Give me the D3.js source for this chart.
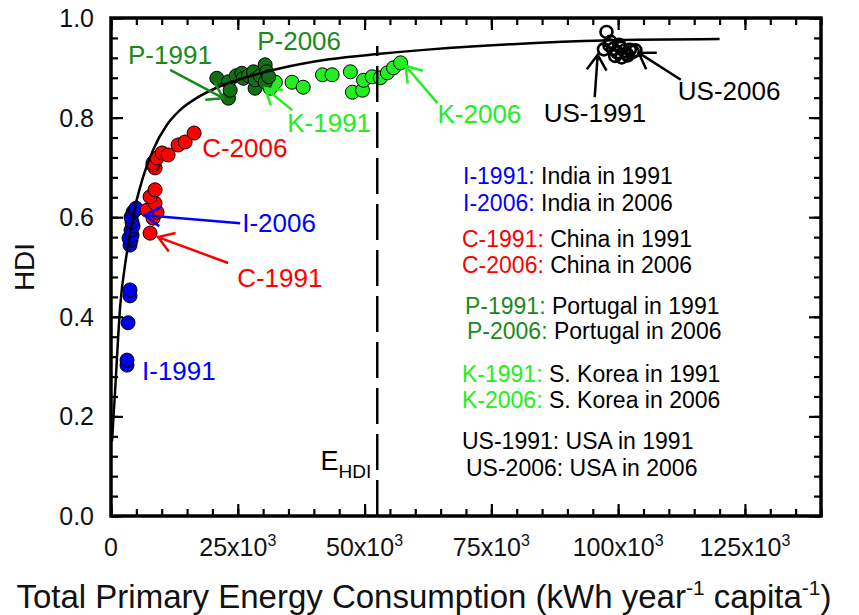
<!DOCTYPE html>
<html>
<head>
<meta charset="utf-8">
<script src="https://cdn.jsdelivr.net/npm/d3@7"></script>
<style>
  html, body { margin: 0; padding: 0; background: #fff; }
  svg { display: block; font-family: Arial, "Liberation Sans", sans-serif; }
</style>
</head>
<body>
<svg id="chart" width="859" height="615"></svg>
<script>
// energy in kWh per year per capita, HDI
const indiaX = [3160, 3160, 3360, 3750, 3750, 3750, 3950, 3550, 4150, 3950, 4340, 4150, 3950, 4340, 4740, 4940];
const indiaY = [0.303, 0.313, 0.388, 0.442, 0.454, 0.544, 0.554, 0.558, 0.564, 0.574, 0.582, 0.590, 0.600, 0.610, 0.614, 0.618];

const chinaX = [7700, 8290, 9080, 7110, 8690, 7700, 8690, 8690, 8290, 8290, 9080, 10070, 11260, 13230, 14610, 16390];
const chinaY = [0.568, 0.598, 0.610, 0.614, 0.628, 0.641, 0.655, 0.699, 0.705, 0.709, 0.719, 0.729, 0.725, 0.745, 0.751, 0.769];

const koreaX = [31400, 32400, 35700, 37900, 41700, 43600, 47200, 47600, 49600, 49800, 51500, 53100, 54500, 55700, 57100];
const koreaY = [0.859, 0.871, 0.871, 0.861, 0.886, 0.886, 0.892, 0.851, 0.855, 0.875, 0.882, 0.880, 0.890, 0.900, 0.910];

const portX = [23160, 20870, 23160, 23500, 24700, 25800, 26100, 27100, 28100, 28400, 28400, 29400, 30400, 30400, 30700, 31100];
const portY = [0.839, 0.879, 0.872, 0.855, 0.884, 0.889, 0.879, 0.884, 0.892, 0.859, 0.876, 0.884, 0.871, 0.906, 0.892, 0.882];

const usX = [97700, 97200, 98300, 99000, 99800, 100500, 101200, 101700, 102300, 102900, 103400, 99400, 100700, 101900, 98500, 100200];
const usY = [0.972, 0.937, 0.945, 0.938, 0.931, 0.940, 0.934, 0.928, 0.936, 0.932, 0.935, 0.924, 0.921, 0.925, 0.952, 0.946];

// fitted curve
const fitX = [200, 800, 1800, 3000, 4300, 6300, 8300, 11000, 13600, 17000, 22000, 27000, 33000, 43000, 53000, 63000, 80000, 97000, 120000];
const fitY = [0.15, 0.25, 0.42, 0.52, 0.60, 0.68, 0.735, 0.785, 0.815, 0.84, 0.865, 0.882, 0.898, 0.917, 0.928, 0.937, 0.948, 0.955, 0.958];

const eHdi = 52500;

const xTicks = [0, 25000, 50000, 75000, 100000, 125000];
const xTickLabels = ["0", "25x10", "50x10", "75x10", "100x10", "125x10"];
const yTicks = [0, 0.2, 0.4, 0.6, 0.8, 1.0];
const yTickLabels = ["0.0", "0.2", "0.4", "0.6", "0.8", "1.0"];

const legendCodes = ["I-1991", "I-2006", "C-1991", "C-2006", "P-1991", "P-2006", "K-1991", "K-2006", "US-1991", "US-2006"];
const legendNames = ["India in 1991", "India in 2006", "China in 1991", "China in 2006", "Portugal in 1991",
  "Portugal in 2006", "S. Korea in 1991", "S. Korea in 2006", "USA in 1991", "USA in 2006"];

const colors = { I: "#0000ff", C: "#ff0000", P: "#1a8a1a", K: "#22ee22", US: "#000000" };
const markerColors = { I: "#0000ee", C: "#ff0000", P: "#127012", K: "#22ee22" };

// annotation labels and arrows (in data units)
const annotations = [
  { text: "P-1991", key: "P", x: 3360, y: 0.908, from: [11650, 0.896], to: [22120, 0.839] },
  { text: "P-2006", key: "P", x: 28830, y: 0.936 },
  { text: "K-1991", key: "K", x: 34750, y: 0.771, from: [35740, 0.815], to: [30410, 0.859] },
  { text: "K-2006", key: "K", x: 64380, y: 0.789, from: [64380, 0.829], to: [58060, 0.904] },
  { text: "C-2006", key: "C", x: 17970, y: 0.721 },
  { text: "C-1991", key: "C", x: 24880, y: 0.460, from: [23100, 0.508], to: [9280, 0.560] },
  { text: "I-2006", key: "I", x: 25870, y: 0.570, from: [25470, 0.588], to: [6710, 0.604] },
  { text: "I-1991", key: "I", x: 6120, y: 0.273 },
  { text: "US-1991", key: "US", x: 85310, y: 0.791, from: [95380, 0.841], to: [95970, 0.926] },
  { text: "US-2006", key: "US", x: 111770, y: 0.835, from: [112360, 0.876], to: [104070, 0.930] }
];

const svg = d3.select("#chart");
const x = d3.scaleLinear().domain([0, 140000]).range([111, 821]);
const y = d3.scaleLinear().domain([0, 1]).range([516, 18]);

const zip = (xs, ys) => xs.map((v, i) => [v, ys[i]]);

// markers
function dots(data, fill) {
  svg.append("g").selectAll("circle")
    .data(data)
    .enter()
    .append("circle")
    .attr("cx", d => x(d[0]))
    .attr("cy", d => y(d[1]))
    .attr("r", 7)
    .attr("fill", fill)
    .attr("stroke", "#000")
    .attr("stroke-width", 1);
}
dots(zip(indiaX, indiaY), markerColors.I);
dots(zip(chinaX, chinaY), markerColors.C);
dots(zip(koreaX, koreaY), markerColors.K);
dots(zip(portX, portY), markerColors.P);

svg.append("g").selectAll("circle")
  .data(zip(usX, usY))
  .enter()
  .append("circle")
  .attr("cx", d => x(d[0]))
  .attr("cy", d => y(d[1]))
  .attr("r", 6)
  .attr("fill", "none")
  .attr("stroke", "#000")
  .attr("stroke-width", 2.6);

// fit curve
svg.append("path")
  .datum(zip(fitX, fitY))
  .attr("fill", "none")
  .attr("stroke", "#000")
  .attr("stroke-width", 2.5)
  .attr("d", d3.line().x(d => x(d[0])).y(d => y(d[1])).curve(d3.curveMonotoneX));

// E_HDI dashed line
svg.append("line")
  .attr("x1", x(eHdi)).attr("x2", x(eHdi))
  .attr("y1", y(0)).attr("y2", y(0.944))
  .attr("stroke", "#000")
  .attr("stroke-width", 2.5)
  .attr("stroke-dasharray", "36,10");

const eLabel = svg.append("text")
  .attr("x", x(eHdi) - 6)
  .attr("y", 470)
  .attr("text-anchor", "end")
  .attr("font-size", 27)
  .attr("fill", "#000");
eLabel.append("tspan").text("E");
eLabel.append("tspan").attr("dy", 8).attr("font-size", 19).text("HDI");

// annotations
annotations.forEach(a => {
  const c = colors[a.key];
  svg.append("text")
    .attr("x", x(a.x))
    .attr("y", y(a.y))
    .attr("font-size", 26)
    .attr("fill", c)
    .text(a.text);
  if (a.from) {
    const x0 = x(a.from[0]), y0 = y(a.from[1]);
    const x1 = x(a.to[0]), y1 = y(a.to[1]);
    const ang = Math.atan2(y0 - y1, x0 - x1);
    const len = 18, spread = 0.58;
    const p = d3.path();
    p.moveTo(x0, y0);
    p.lineTo(x1, y1);
    p.moveTo(x1 + len * Math.cos(ang + spread), y1 + len * Math.sin(ang + spread));
    p.lineTo(x1, y1);
    p.lineTo(x1 + len * Math.cos(ang - spread), y1 + len * Math.sin(ang - spread));
    svg.append("path")
      .attr("d", p.toString())
      .attr("fill", "none")
      .attr("stroke", c)
      .attr("stroke-width", 2.5);
  }
});

// legend text block
const legendLeft = [463, 463, 462, 462, 465, 467, 462, 462, 462, 466];
const legendBase = [184, 211, 247, 273, 314, 339, 382, 408, 449, 476];
legendCodes.forEach((code, i) => {
  const key = code.split("-")[0];
  const t = svg.append("text")
    .attr("x", legendLeft[i])
    .attr("y", legendBase[i])
    .attr("font-size", 23);
  t.append("tspan").attr("fill", colors[key]).text(code + ":");
  t.append("tspan").attr("fill", "#000").text(" " + legendNames[i]);
});

// axes: inward ticks on all four sides
function ticks(axis, tr, values, size) {
  svg.append("g")
    .attr("transform", tr)
    .call(axis.tickValues(values).tickSize(size).tickFormat(""))
    .call(g => g.select(".domain").remove())
    .selectAll("line")
    .attr("stroke", "#000")
    .attr("stroke-width", 2.2);
}
const xMinor = d3.range(0, 140001, 5000);
const yMinor = d3.range(0, 26).map(i => i * 0.04);
ticks(d3.axisBottom(x), `translate(0,${y(0)})`, xMinor, -7);
ticks(d3.axisBottom(x), `translate(0,${y(0)})`, xTicks, -12);
ticks(d3.axisTop(x), `translate(0,${y(1)})`, xMinor, -7);
ticks(d3.axisTop(x), `translate(0,${y(1)})`, xTicks, -12);
ticks(d3.axisLeft(y), `translate(${x(0)},0)`, yMinor, -7);
ticks(d3.axisLeft(y), `translate(${x(0)},0)`, yTicks, -12);
ticks(d3.axisRight(y), `translate(${x(140000)},0)`, yMinor, -7);
ticks(d3.axisRight(y), `translate(${x(140000)},0)`, yTicks, -12);

svg.append("rect")
  .attr("x", x(0)).attr("y", y(1))
  .attr("width", x(140000) - x(0))
  .attr("height", y(0) - y(1))
  .attr("fill", "none")
  .attr("stroke", "#000")
  .attr("stroke-width", 3.5);

// tick labels
xTicks.forEach((v, i) => {
  const t = svg.append("text")
    .attr("x", x(v))
    .attr("y", 556)
    .attr("text-anchor", "middle")
    .attr("font-size", 25)
    .attr("fill", "#111");
  t.append("tspan").text(xTickLabels[i]);
  if (v !== 0) t.append("tspan").attr("dy", -10).attr("font-size", 16).text("3");
});

yTicks.forEach((v, i) => {
  svg.append("text")
    .attr("x", 94)
    .attr("y", y(v) + 9)
    .attr("text-anchor", "end")
    .attr("font-size", 25)
    .attr("fill", "#111")
    .text(yTickLabels[i]);
});

// axis titles
svg.append("text")
  .attr("transform", "translate(34,267) rotate(-90)")
  .attr("text-anchor", "middle")
  .attr("font-size", 28)
  .attr("fill", "#111")
  .text("HDI");

const xt = svg.append("text")
  .attr("x", 424)
  .attr("y", 608)
  .attr("text-anchor", "middle")
  .attr("font-size", 33)
  .attr("fill", "#111");
xt.append("tspan").text("Total Primary Energy Consumption (kWh year");
xt.append("tspan").attr("dy", -13).attr("font-size", 21).text("-1");
xt.append("tspan").attr("dy", 13).text(" capita");
xt.append("tspan").attr("dy", -13).attr("font-size", 21).text("-1");
xt.append("tspan").attr("dy", 13).text(")");
</script>
</body>
</html>
